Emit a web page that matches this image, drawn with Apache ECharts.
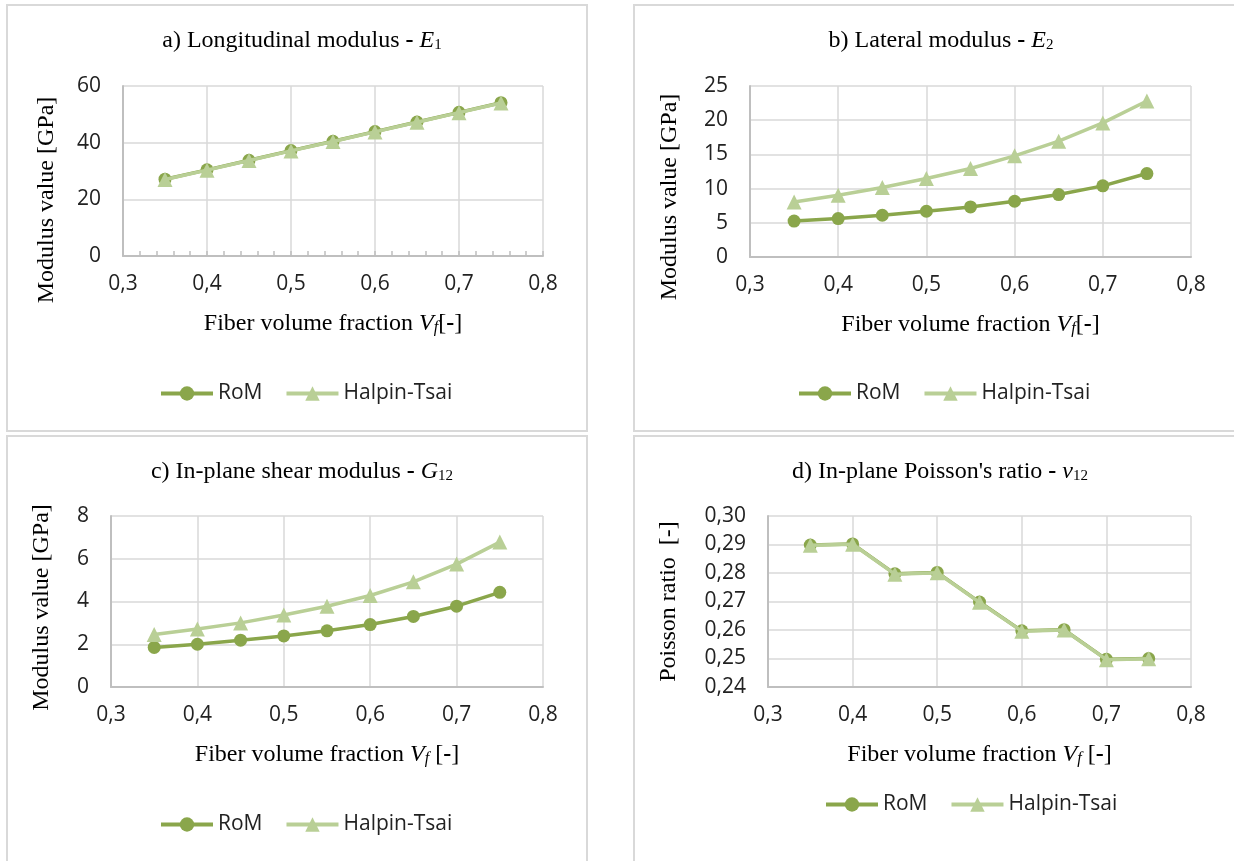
<!DOCTYPE html>
<html>
<head>
<meta charset="utf-8">
<script src="https://cdn.jsdelivr.net/npm/echarts@6/dist/echarts.min.js"></script>
<style>
html,body{margin:0;padding:0;background:#fff;}
#c{width:1234px;height:861px;}
</style>
</head>
<body>
<div id="c"></div>
<script>
// ---- data ----
const vf = [0.35, 0.40, 0.45, 0.50, 0.55, 0.60, 0.65, 0.70, 0.75];
const xTicks = [0.3, 0.4, 0.5, 0.6, 0.7, 0.8];
const seriesNames = ['RoM', 'Halpin-Tsai'];

const e1RoM = [27.1, 30.4, 33.8, 37.2, 40.5, 43.9, 47.3, 50.7, 54.1];
const e1HT  = [27.0, 30.3, 33.7, 37.1, 40.4, 43.8, 47.2, 50.6, 54.0];

const e2RoM = [5.25, 5.62, 6.1, 6.69, 7.32, 8.15, 9.13, 10.4, 12.2];
const e2HT  = [8.05, 9.03, 10.16, 11.47, 12.94, 14.79, 16.94, 19.6, 22.8];

const g12RoM = [1.85, 2.0, 2.19, 2.39, 2.63, 2.92, 3.3, 3.78, 4.43];
const g12HT  = [2.46, 2.71, 3.0, 3.37, 3.78, 4.28, 4.92, 5.75, 6.78];

const nuRoM = [0.2898, 0.2902, 0.2797, 0.2802, 0.2698, 0.2597, 0.2601, 0.2497, 0.2500];
const nuHT  = [0.2897, 0.2901, 0.2796, 0.2801, 0.2697, 0.2596, 0.2600, 0.2496, 0.2499];

const yTicksA = [0, 20, 40, 60];
const yTicksB = [0, 5, 10, 15, 20, 25];
const yTicksC = [0, 2, 4, 6, 8];
const yTicksD = [0.24, 0.25, 0.26, 0.27, 0.28, 0.29, 0.30];

const titles = [
  'a) Longitudinal modulus {b|-} {i|E}{s|1}',
  'b) Lateral modulus {b|-} {i|E}{s|2}',
  'c) In-plane shear modulus {b|-} {i|G}{s|12}',
  'd) In-plane Poisson\'s ratio {b|-} {i|v}{s|12}'
];
const yNames = ['Modulus value [GPa]', 'Modulus value [GPa]', 'Modulus value [GPa]', 'Poisson ratio  [-]'];
const xNames = [
  'Fiber volume fraction {i|V}{si|f}[{b|-}]',
  'Fiber volume fraction {i|V}{si|f}[{b|-}]',
  'Fiber volume fraction {i|V}{si|f} [{b|-}]',
  'Fiber volume fraction {i|V}{si|f} [{b|-}]'
];

// ---- styling ----
const C_ROM = '#8aa64b';
const C_HT = '#b9cf96';
const SERIF = 'Liberation Serif';
const SANS = 'Open Sans';
const FS = 24;

const richSerif = {
  i: {fontFamily: SERIF, fontSize: FS, fontStyle: 'italic', color: '#000'},
  s: {fontFamily: SERIF, fontSize: 15, color: '#000', verticalAlign: 'bottom', padding: [8, 0, 0, 0]},
  si: {fontFamily: SERIF, fontSize: 16, fontStyle: 'italic', color: '#000', verticalAlign: 'bottom', padding: [9, 0, 0, 0]},
  b: {fontFamily: SERIF, fontSize: FS, fontWeight: 'bold', color: '#000'}
};

const grids = [
  {left: 123, top: 86, width: 420, height: 170},
  {left: 750, top: 86, width: 441, height: 171},
  {left: 111, top: 516, width: 432, height: 171},
  {left: 768, top: 516, width: 423, height: 171}
];
const yRanges = [
  {min: yTicksA[0], max: yTicksA[yTicksA.length - 1], interval: 20, dec: 0},
  {min: yTicksB[0], max: yTicksB[yTicksB.length - 1], interval: 5, dec: 0},
  {min: yTicksC[0], max: yTicksC[yTicksC.length - 1], interval: 2, dec: 0},
  {min: yTicksD[0], max: yTicksD[yTicksD.length - 1], interval: 0.01, dec: 2}
];
const titlePos = [{x: 297, y: 24}, {x: 936, y: 24}, {x: 297, y: 455}, {x: 935, y: 455}];
const yNameGap = [64, 68, 57, 87];
const yNamePad = [58, 51, 12, 0];
const legendPos = [{x: 154, y: 378}, {x: 792, y: 378}, {x: 154, y: 809}, {x: 819, y: 789}];
const dataSets = [[e1RoM, e1HT], [e2RoM, e2HT], [g12RoM, g12HT], [nuRoM, nuHT]];

function fmtComma(v, dec) { return v.toFixed(dec).replace('.', ','); }

const option = {
  animation: false,
  backgroundColor: '#fff',
  graphic: [
    {type: 'rect', shape: {x: 7, y: 5, width: 580, height: 426}, style: {fill: 'none', stroke: '#d9d9d9', lineWidth: 2}},
    {type: 'rect', shape: {x: 634, y: 5, width: 620, height: 426}, style: {fill: 'none', stroke: '#d9d9d9', lineWidth: 2}},
    {type: 'rect', shape: {x: 7, y: 436, width: 580, height: 440}, style: {fill: 'none', stroke: '#d9d9d9', lineWidth: 2}},
    {type: 'rect', shape: {x: 634, y: 436, width: 620, height: 440}, style: {fill: 'none', stroke: '#d9d9d9', lineWidth: 2}}
  ],
  title: titles.map((t, k) => ({
    text: t,
    left: titlePos[k].x,
    top: titlePos[k].y,
    textAlign: 'center',
    textStyle: {fontFamily: SERIF, fontSize: FS, fontWeight: 'normal', color: '#000', rich: richSerif}
  })),
  legend: legendPos.map(p => ({
    left: p.x,
    top: p.y,
    data: seriesNames,
    itemWidth: 52,
    itemHeight: 18,
    itemGap: 22,
    lineStyle: {width: 4},
    textStyle: {fontFamily: SANS, fontSize: 21, color: '#222'},
    selectedMode: false
  })),
  grid: grids.map(g => Object.assign({containLabel: false}, g)),
  xAxis: grids.map((g, k) => ({
    type: 'value',
    gridIndex: k,
    min: xTicks[0],
    max: xTicks[xTicks.length - 1],
    interval: 0.1,
    name: xNames[k],
    nameLocation: 'middle',
    nameGap: 55,
    nameTextStyle: {fontFamily: SERIF, fontSize: FS, color: '#000', rich: richSerif},
    axisLine: {show: true, lineStyle: {color: '#bfbfbf', width: 2}},
    axisTick: {show: k === 0, inside: true, length: 5, lineStyle: {color: '#bfbfbf', width: 1.5}},
    minorTick: {show: k === 0, splitNumber: 5, length: 5, lineStyle: {color: '#bfbfbf', width: 1.5}},
    splitLine: {show: true, lineStyle: {color: '#d9d9d9', width: 1.5}},
    axisLabel: {margin: 18, fontFamily: SANS, fontSize: 21, color: '#222', formatter: v => fmtComma(v, 1)}
  })),
  yAxis: grids.map((g, k) => ({
    type: 'value',
    gridIndex: k,
    min: yRanges[k].min,
    max: yRanges[k].max,
    interval: yRanges[k].interval,
    name: yNames[k],
    nameLocation: 'middle',
    nameGap: yNameGap[k],
    nameTextStyle: {fontFamily: SERIF, fontSize: FS, color: '#000', padding: [0, yNamePad[k], 0, 0]},
    axisLine: {show: true, lineStyle: {color: '#bfbfbf', width: 2}},
    axisTick: {show: false},
    splitLine: {show: true, lineStyle: {color: '#d9d9d9', width: 1.5}},
    axisLabel: {margin: 22, fontFamily: SANS, fontSize: 21, color: '#222', formatter: v => fmtComma(v, yRanges[k].dec)}
  })),
  series: []
};

dataSets.forEach((pair, k) => {
  option.series.push({
    name: seriesNames[0], type: 'line', xAxisIndex: k, yAxisIndex: k,
    data: vf.map((x, i) => [x, pair[0][i]]),
    symbol: 'circle', symbolSize: 13,
    lineStyle: {color: C_ROM, width: 3.5},
    itemStyle: {color: C_ROM},
    z: 2
  });
  option.series.push({
    name: seriesNames[1], type: 'line', xAxisIndex: k, yAxisIndex: k,
    data: vf.map((x, i) => [x, pair[1][i]]),
    symbol: 'triangle', symbolSize: 15,
    lineStyle: {color: C_HT, width: 3.5},
    itemStyle: {color: C_HT},
    z: 3
  });
});

const chart = echarts.init(document.getElementById('c'), null, {renderer: 'canvas'});
chart.setOption(option);
</script>
</body>
</html>
